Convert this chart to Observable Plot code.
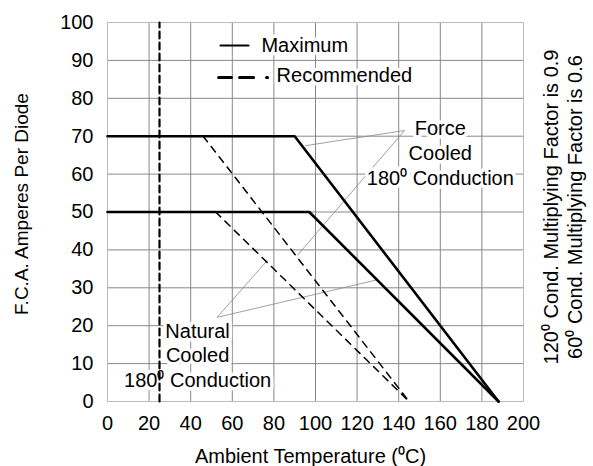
<!DOCTYPE html>
<html><head><meta charset="utf-8">
<script src="https://cdn.jsdelivr.net/npm/d3@7"></script>
<script src="https://cdn.jsdelivr.net/npm/@observablehq/plot@0.6"></script>
<style>
body{margin:0;background:#fff}
svg{font-family:"Liberation Sans",Arial,sans-serif}
</style>
</head><body><div id="chart"></div>
<script>
// Tick values
const xTicks = [0,20,40,60,80,100,120,140,160,180,200];
const yTicks = [0,10,20,30,40,50,60,70,80,90,100];

// Curves (temperature °C, amperes)
const forceMax   = [{t:0,a:70},{t:90,a:70},{t:188,a:0}];
const naturalMax = [{t:0,a:50},{t:97,a:50},{t:188,a:0}];
const forceRec   = [{t:46,a:70},{t:145,a:0}];
const naturalRec = [{t:52,a:50},{t:145,a:0}];
const ambientRef = [{t:25,a:0},{t:25,a:100}];

// Legend
const legendMaxLine = [{t:54.3,a:93.9},{t:67.8,a:93.9}];
const legendRecLine = [{t:53.4,a:85.5},{t:77.4,a:85.5}];
const legendText = [{t:74.0,a:93.9,label:"Maximum"},{t:81.3,a:86.0,label:"Recommended"}];

// Annotations
const forceLabels = [{t:160,a:71.9,label:"Force"},{t:160,a:65.4,label:"Cooled"},{t:160,a:58.9,label:"180\u2070 Conduction"}];
const naturalLabels = [{t:43.3,a:18.4,label:"Natural"},{t:43.3,a:12.1,label:"Cooled"},{t:43.3,a:5.5,label:"180\u2070 Conduction"}];
const leaders = [
  {t1:142.8,a1:71.5,t2:95.2,a2:67.5},
  {t1:142.8,a1:71.5,t2:91.2,a2:38.5},
  {t1:52.7,a1:22.2,t2:76.8,a2:37.2},
  {t1:52.7,a1:22.2,t2:129.6,a2:32.1}
];

const xLabel = "Ambient Temperature (\u2070C)";
const yLabel = "F.C.A. Amperes Per Diode";
const sideNotes = ["120\u2070 Cond. Multiplying Factor is 0.9", "60\u2070 Cond. Multiplying Factor is 0.6"];

const chart = Plot.plot({
  width: 593, height: 466,
  marginLeft: 107, marginRight: 70, marginTop: 22, marginBottom: 65,
  x: {domain: [0, 200]},
  y: {domain: [0, 100]},
  style: {fontFamily: '"Liberation Sans", Arial, sans-serif', fontSize: "20px", color: "#000", background: "#fff"},
  marks: [
    Plot.gridX(xTicks, {stroke: "#888", strokeOpacity: 1, strokeWidth: 1}),
    Plot.gridY(yTicks, {stroke: "#888", strokeOpacity: 1, strokeWidth: 1}),
    Plot.frame({stroke: "#bbb", strokeWidth: 1}),
    Plot.axisX(xTicks, {tickSize: 0, tickPadding: 14, fontSize: 20, label: null, fill: "#000"}),
    Plot.axisY(yTicks, {tickSize: 0, tickPadding: 14, fontSize: 20, label: null, fill: "#000"}),
    Plot.link(leaders, {x1: "t1", y1: "a1", x2: "t2", y2: "a2", stroke: "#888", strokeWidth: 0.8}),
    Plot.text(forceLabels, {x: "t", y: "a", text: "label", fontSize: 20, fill: "#000", stroke: "#fff", strokeWidth: 7, paintOrder: "stroke", textAnchor: "middle"}),
    Plot.text(naturalLabels, {x: "t", y: "a", text: "label", fontSize: 20, fill: "#000", stroke: "#fff", strokeWidth: 7, paintOrder: "stroke", textAnchor: "middle"}),
    Plot.text(legendText, {x: "t", y: "a", text: "label", fontSize: 20, fill: "#000", stroke: "#fff", strokeWidth: 7, paintOrder: "stroke", textAnchor: "start"}),
    Plot.line(legendMaxLine, {x: "t", y: "a", stroke: "#000", strokeWidth: 2}),
    Plot.line(legendRecLine, {x: "t", y: "a", stroke: "#000", strokeWidth: 3, strokeDasharray: "13,8,14,13,1,99"}),
    Plot.line(forceMax, {x: "t", y: "a", stroke: "#000", strokeWidth: 2.6}),
    Plot.line(naturalMax, {x: "t", y: "a", stroke: "#000", strokeWidth: 2.6}),
    Plot.line(forceRec, {x: "t", y: "a", stroke: "#000", strokeWidth: 1.5, strokeDasharray: "7,6"}),
    Plot.line(naturalRec, {x: "t", y: "a", stroke: "#000", strokeWidth: 1.5, strokeDasharray: "7,6"}),
    Plot.line(ambientRef, {x: "t", y: "a", stroke: "#000", strokeWidth: 2.2, strokeDasharray: "7,4"}),
    Plot.text([xLabel], {text: d => d, frameAnchor: "bottom", dx: -5, dy: 55, textAnchor: "middle", lineAnchor: "middle", fontSize: 20, fill: "#000"}),
    Plot.text([yLabel], {text: d => d, frameAnchor: "left", dx: -86, dy: -8, rotate: -90, textAnchor: "middle", lineAnchor: "middle", fontSize: 19, fill: "#000"}),
    Plot.text([sideNotes[0]], {text: d => d, frameAnchor: "right", dx: 28, dy: -5, rotate: -90, textAnchor: "middle", lineAnchor: "middle", fontSize: 20, fill: "#000"}),
    Plot.text([sideNotes[1]], {text: d => d, frameAnchor: "right", dx: 52, dy: -5, rotate: -90, textAnchor: "middle", lineAnchor: "middle", fontSize: 20, fill: "#000"})
  ]
});
document.getElementById("chart").appendChild(chart);
</script>
</body></html>
